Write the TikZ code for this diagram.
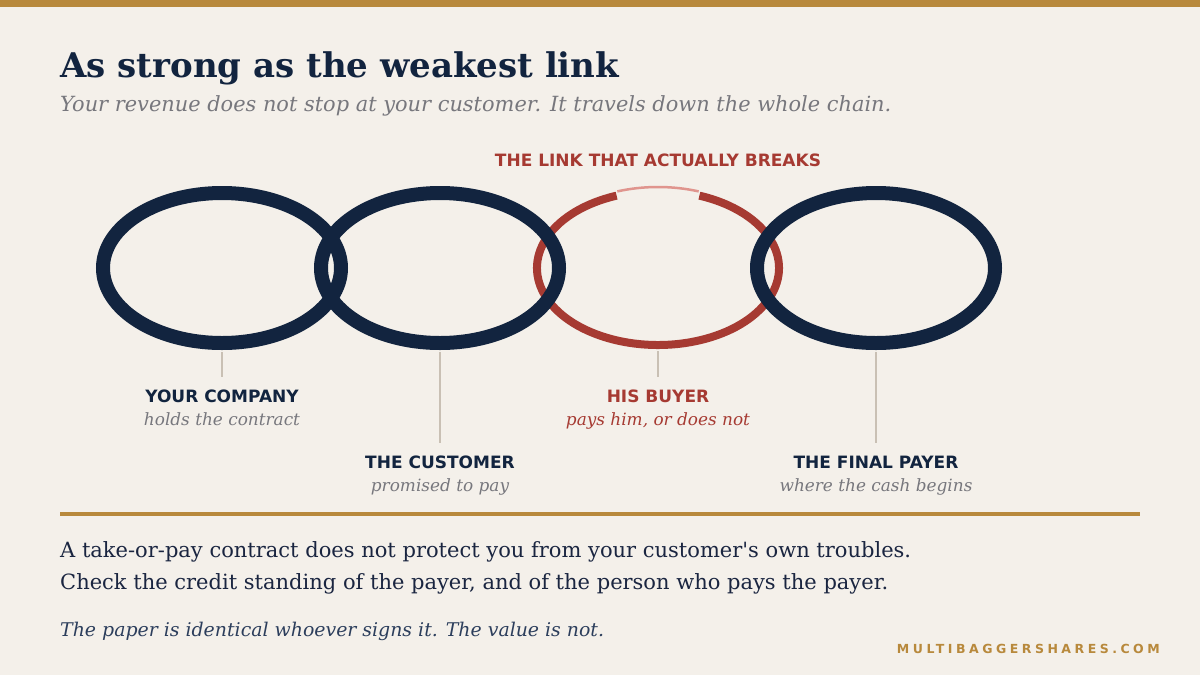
\documentclass[tikz,border=0pt]{standalone}
\usepackage{fontspec}
\setmainfont{DejaVu Serif}
\setsansfont{DejaVu Sans}
\newfontfamily\brandfont[LetterSpace=28]{DejaVu Sans}
\usetikzlibrary{positioning,shapes.geometric}

\definecolor{paper}{HTML}{F4F0EA}
\definecolor{gold}{HTML}{B8893C}
\definecolor{navy}{HTML}{12243F}
\definecolor{brick}{HTML}{A63A32}
\definecolor{blush}{HTML}{E0958E}
\definecolor{muted}{HTML}{77777D}
\definecolor{leader}{HTML}{C9C0B4}
\definecolor{ink}{HTML}{1A2540}
\definecolor{slate}{HTML}{2C3E5C}

\begin{document}
\begin{tikzpicture}[x=1pt, y=-1pt,
  ring/.style={ellipse, draw=navy, line width=14pt, minimum width=238pt, minimum height=150pt, inner sep=0pt},
  weak/.style={ring, draw=none, line width=8pt, minimum width=242pt, minimum height=154pt},
  head/.style={anchor=base, inner sep=0pt, text=navy, font=\sffamily\bfseries\fontsize{17}{20}\selectfont},
  sub/.style={anchor=base, inner sep=0pt, text=muted, font=\itshape\fontsize{16.9}{20}\selectfont},
  lead/.style={draw=leader, line width=2pt, shorten <=2pt},
  body/.style={anchor=base west, inner sep=0pt, text=ink, font=\fontsize{21}{25}\selectfont}]
\fill[paper] (0,0) rectangle (1200,675);
\useasboundingbox (0,0) rectangle (1200,675);
\fill[gold] (0,0) rectangle (1200,7);

% heading
\node[anchor=base west, inner sep=0pt, text=navy, font=\bfseries\fontsize{34}{40}\selectfont] (title) at (60,77) {As strong as the weakest link};
\node[anchor=base west, inner sep=0pt, text=muted, font=\itshape\fontsize{20.9}{25}\selectfont] (subtitle) at (60,111) {Your revenue does not stop at your customer. It travels down the whole chain.};
\node[head, text=brick] (breaks) at (658,166) {THE LINK THAT ACTUALLY BREAKS};

% the chain, weak link first so the dark links sit over it
\node[weak] (buyer) at (658,268) {};
\draw[brick, line width=8pt] ([shift={(110:121pt and 77pt)}]buyer.center) arc[start angle=110, end angle=430, x radius=121pt, y radius=77pt];
\draw[blush, line width=2.5pt] ([shift={(71:125pt and 81pt)}]buyer.center) arc[start angle=71, end angle=109, x radius=125pt, y radius=81pt];
\node[ring] (company) at (222,268) {};
\node[ring] (customer) at (440,268) {};
\node[ring] (payer) at (876,268) {};

% labels
\node[head] (companyname) at (222,402) {YOUR COMPANY};
\node[sub] (companynote) at (222,425) {holds the contract};
\node[head] (customername) at (440,468) {THE CUSTOMER};
\node[sub] (customernote) at (440,491) {promised to pay};
\node[head, text=brick] (buyername) at (658,402) {HIS BUYER};
\node[sub, text=brick] (buyernote) at (658,425) {pays him, or does not};
\node[head] (payername) at (876,468) {THE FINAL PAYER};
\node[sub] (payernote) at (876,491) {where the cash begins};

\draw[lead] (company.south) -- ([yshift=12pt]companyname.north);
\draw[lead] (customer.south) -- ([yshift=12pt]customername.north);
\draw[lead] (buyer.south) -- ([yshift=12pt]buyername.north);
\draw[lead] (payer.south) -- ([yshift=12pt]payername.north);

% takeaway
\fill[gold] (60,512) rectangle (1140,516);
\node[body] (line1) at (60,557) {A take-or-pay contract does not protect you from your customer\textquotesingle s own troubles.};
\node[body] (line2) at (60,589) {Check the credit standing of the payer, and of the person who pays the payer.};
\node[body, text=slate, font=\itshape\fontsize{18.9}{23}\selectfont] (moral) at (60,636) {The paper is identical whoever signs it. The value is not.};
\node[anchor=base east, inner sep=0pt, text=gold, font=\brandfont\bfseries\fontsize{12.5}{15}\selectfont] (brand) at (1160,653) {MULTIBAGGERSHARES.COM};
\end{tikzpicture}
\end{document}
